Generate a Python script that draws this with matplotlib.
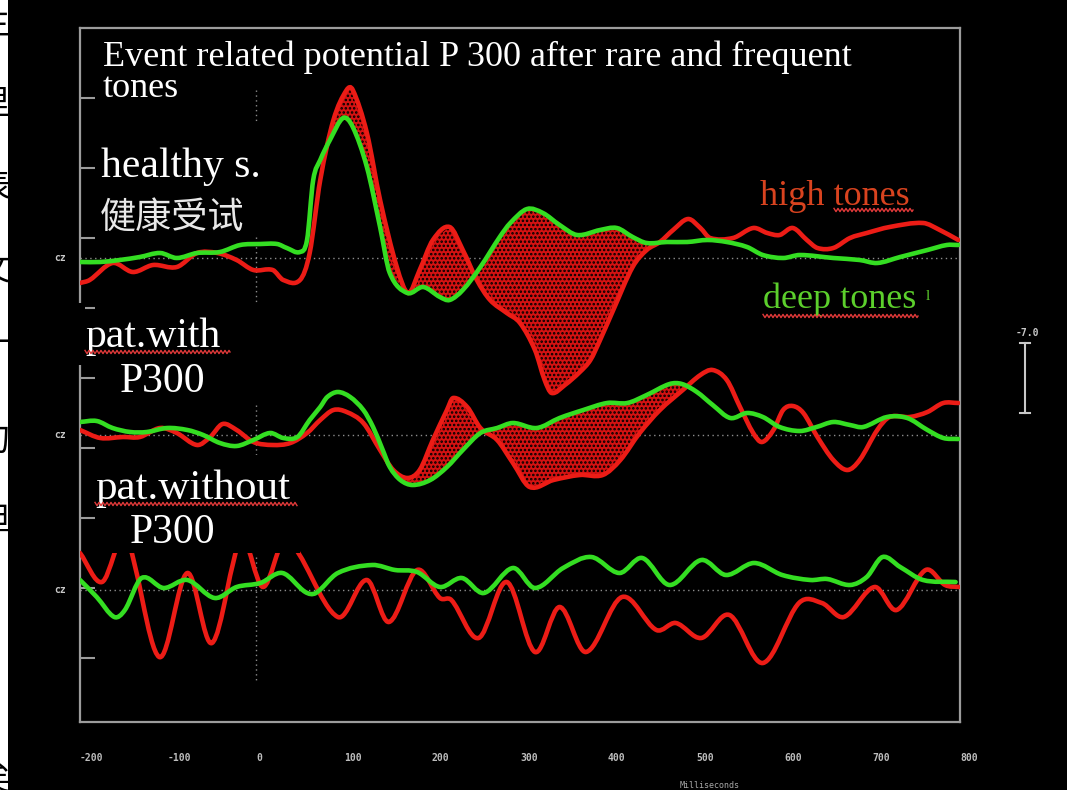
import numpy as np
import matplotlib
matplotlib.use("Agg")
import matplotlib.pyplot as plt
from matplotlib.patches import Rectangle, PathPatch
from matplotlib.path import Path
from matplotlib.lines import Line2D
from matplotlib.transforms import IdentityTransform

W, H, DPI = 1067, 790, 100

# ---------------- data (time in ms, amplitude in µV, negative up) ----------------
channel_names = ["healthy s.", "pat.with P300", "pat.without P300"]
channel_offsets = [23.0, 40.7, 56.2]

# healthy subject
t_h_deep = [-200, -177, -155, -132, -109, -90, -67, -41, -18, 5, 24, 35, 50, 58, 65, 73, 84, 99, 110, 126,
            141, 152, 172, 190, 209, 220, 235, 255, 277, 289, 308, 326, 345, 365, 391, 410, 428, 444, 467,
            490, 513, 535, 558, 576, 599, 618, 656, 686, 706, 732, 763, 785, 798]
v_h_deep = [0.4, 0.4, 0.2, -0.1, -0.5, 0.0, -0.5, -0.6, -1.3, -1.4, -1.4, -1.0, -0.6, -1.8, -7.8, -9.8, -11.8,
            -14.0, -13.1, -9.1, -3.1, 1.5, 3.5, 2.9, 3.9, 4.2, 3.2, 0.9, -2.1, -3.5, -4.9, -4.5, -3.3, -2.3,
            -2.8, -3.0, -2.1, -1.5, -1.6, -1.6, -1.8, -1.6, -1.1, -0.3, 0.0, -0.3, 0.0, 0.2, 0.5, -0.1, -0.8,
            -1.3, -1.3]
t_h_high = [-200, -189, -163, -140, -117, -90, -67, -44, -22, -3, 19, 31, 50, 61, 73, 88, 103, 110, 126, 141,
            160, 173, 186, 201, 220, 235, 251, 266, 285, 300, 317, 328, 336, 351, 368, 380, 391, 406, 428,
            444, 459, 474, 491, 505, 516, 542, 565, 581, 595, 610, 626, 638, 656, 675, 694, 720, 758, 777, 798]
v_h_high = [2.5, 2.2, 0.5, 1.4, 0.7, 0.9, -0.5, -0.5, 0.2, 1.2, 1.2, 2.2, 2.2, -0.5, -7.8, -13.8, -16.8, -16.8,
            -12.5, -5.8, 0.9, 3.5, 1.2, -1.8, -3.1, -0.8, 2.2, 4.2, 5.5, 6.5, 9.2, 12.2, 13.5, 12.7, 11.4,
            10.2, 8.2, 5.2, 0.9, -0.8, -1.6, -2.8, -3.9, -3.0, -2.0, -2.0, -3.0, -2.5, -2.3, -3.0, -1.8, -1.0,
            -1.0, -2.0, -2.5, -3.1, -3.5, -2.8, -1.8]

# patient with P300
t_w_deep = [-200, -181, -163, -143, -124, -101, -78, -60, -41, -22, -3, 16, 31, 47, 61, 73, 81, 93, 107, 122,
            133, 144, 152, 164, 178, 198, 217, 235, 255, 274, 292, 319, 345, 372, 399, 422, 444, 470, 484,
            501, 519, 539, 558, 576, 595, 618, 637, 656, 675, 690, 717, 740, 763, 781, 798]
v_w_deep = [-1.3, -1.4, -0.7, -0.3, -0.3, -0.7, -0.5, 0.0, 0.8, 1.1, 0.5, -0.2, 0.3, 0.2, -1.5, -2.8, -3.8,
            -4.3, -3.8, -2.5, -0.8, 1.5, 3.2, 4.5, 5.0, 4.5, 3.2, 1.5, -0.2, -0.7, -1.2, -0.7, -1.7, -2.5,
            -3.2, -3.2, -4.0, -5.1, -5.1, -4.3, -3.0, -1.7, -2.2, -1.8, -0.8, -0.4, -0.8, -1.3, -1.0, -0.8,
            -1.8, -1.7, -0.5, 0.3, 0.4]
t_w_high = [-200, -177, -151, -132, -109, -90, -67, -52, -38, -22, -3, 19, 39, 58, 73, 88, 103, 122, 141, 156,
            172, 186, 201, 217, 224, 240, 255, 274, 292, 311, 338, 368, 394, 414, 436, 459, 485, 505, 519,
            535, 550, 565, 575, 588, 599, 610, 622, 638, 656, 672, 686, 706, 720, 743, 763, 781, 798]
v_w_high = [-0.5, 0.3, 0.2, 0.2, -0.7, -0.2, 1.0, 0.2, -1.1, -0.5, 0.7, 1.0, 0.8, -0.2, -1.5, -2.5, -2.3, -1.2,
            1.5, 3.5, 4.3, 3.5, 0.5, -2.5, -3.7, -2.8, -0.7, 0.5, 2.8, 5.2, 4.5, 4.0, 4.0, 2.5, -0.2, -2.5,
            -4.5, -6.0, -6.5, -5.5, -2.8, -0.2, 0.7, -0.5, -2.5, -2.9, -2.2, 0.2, 2.5, 3.5, 2.5, -0.5, -1.8,
            -1.8, -2.3, -3.2, -3.2]

# patient without P300
t_o_deep = [-200, -181, -161, -149, -130, -105, -78, -47, -22, 5, 30, 56, 68, 93, 132, 158, 183, 209, 234, 259,
            292, 317, 349, 381, 413, 439, 470, 506, 534, 566, 598, 630, 649, 675, 694, 712, 732, 758, 795]
v_o_deep = [-1.0, 0.7, 2.7, 2.0, -1.2, -0.2, -1.0, 0.8, -0.3, -0.7, -1.7, 0.2, 0.3, -1.7, -2.5, -2.0, -1.8,
            -0.3, -1.2, 0.3, -2.2, -0.2, -2.2, -3.3, -1.7, -3.2, -0.5, -3.0, -1.5, -2.7, -1.5, -1.0, -1.1,
            -0.5, -1.3, -3.3, -2.3, -1.0, -0.8]
t_o_high = [-200, -175, -148, -110, -78, -50, -17, 8, 34, 93, 126, 151, 183, 209, 222, 253, 285, 317, 345, 375,
            416, 455, 477, 506, 538, 576, 617, 643, 668, 703, 728, 761, 783, 799]
v_o_high = [-3.7, -0.8, -5.2, 6.7, -1.7, 5.3, -5.0, -0.3, -5.0, 2.7, -1.0, 3.2, -2.0, 0.8, 1.0, 4.8, -0.8, 6.2,
            1.7, 6.2, 0.7, 4.0, 3.3, 4.8, 2.5, 7.3, 1.3, 1.3, 2.7, -0.3, 2.0, -2.0, -0.5, -0.3]

fill_windows = [(84, 448), (150, 493), None]   # shaded difference windows (ms)

x_ticks = [-200, -100, 0, 100, 200, 300, 400, 500, 600, 700, 800]
x_ticklabels = [str(v) for v in x_ticks]
scale_bar_uv = 7.0

RED = "#ec1c16"
GREEN = "#34de22"
FRAME = "#9c9c9c"


# ---------------- helpers ----------------
def fx(px):
    return px / W


def fy(py):
    return 1 - py / H


def smooth_path(x, y):
    """Bezier path through the read points (cubic Hermite tangents)."""
    x = np.asarray(x, float)
    y = np.asarray(y, float)
    n = len(x)
    m = np.zeros(n)
    m[1:-1] = (y[2:] - y[:-2]) / (x[2:] - x[:-2])
    m[0] = (y[1] - y[0]) / (x[1] - x[0])
    m[-1] = (y[-1] - y[-2]) / (x[-1] - x[-2])
    verts = [(x[0], y[0])]
    codes = [Path.MOVETO]
    for i in range(n - 1):
        h = x[i + 1] - x[i]
        verts += [(x[i] + h / 3, y[i] + m[i] * h / 3),
                  (x[i + 1] - h / 3, y[i + 1] - m[i + 1] * h / 3),
                  (x[i + 1], y[i + 1])]
        codes += [Path.CURVE4] * 3
    return Path(verts, codes)


fig = plt.figure(figsize=(W / DPI, H / DPI), dpi=DPI, facecolor="white")

# white strip with cut-off characters at left, black panel
for ch, yc in zip("主里表文十句担矣", [25, 105, 188, 270, 345, 440, 520, 780]):
    fig.text(fx(10), fy(yc), ch, ha="right", va="center", fontsize=24,
             family=["Noto Sans CJK SC", "DejaVu Sans"], color="black", zorder=-3)
fig.add_artist(Rectangle((fx(8), 0), 1, 1, transform=fig.transFigure,
                         facecolor="black", edgecolor="none", zorder=-2))

ax = fig.add_axes([fx(80), fy(722), fx(960) - fx(80), fy(28) - fy(722)])
ax.set_facecolor("black")
ax.set_xlim(-200, 800)
ax.set_ylim(69.4, 0)
for s in ax.spines.values():
    s.set_color(FRAME)
    s.set_linewidth(1.6)

# grid: baselines and 0 ms markers
for off in channel_offsets:
    ax.axhline(off, color="#8c8c8c", lw=1.0, ls=(0, (1, 2.5)), zorder=1)
for y0, y1 in [(6.2, 9.5), (20.9, 27.7), (37.7, 42.9), (52.9, 65.2)]:
    ax.plot([0, 0], [y0, y1], color="#8c8c8c", lw=1.0, ls=(0, (1, 2.5)), zorder=1)

traces = [(t_h_deep, v_h_deep, t_h_high, v_h_high),
          (t_w_deep, v_w_deep, t_w_high, v_w_high),
          (t_o_deep, v_o_deep, t_o_high, v_o_high)]

plt.rcParams["hatch.linewidth"] = 1.2
for (td, vd, th, vh), off, win in zip(traces, channel_offsets, fill_windows):
    td = np.asarray(td, float); vd = np.asarray(vd, float) + off
    th = np.asarray(th, float); vh = np.asarray(vh, float) + off
    if win is not None:
        tt = np.arange(win[0], win[1] + 1, 1.0)
        ax.fill_between(tt, np.interp(tt, td, vd), np.interp(tt, th, vh),
                        facecolor="#d41212", edgecolor="black", hatch="....", linewidth=0, zorder=2)
    for t, v, col, z in ((th, vh, RED, 3), (td, vd, GREEN, 4)):
        ax.add_patch(PathPatch(smooth_path(t, v), fill=False, edgecolor=col, lw=3.3,
                               joinstyle="round", capstyle="round", zorder=z))

# axes ticks
ax.set_xticks(x_ticks)
ax.set_xticklabels(x_ticklabels)
ax.tick_params(axis="x", length=0, pad=22, labelsize=7, labelcolor="#bdbdbd")
for lab in ax.get_xticklabels():
    lab.set_ha("left")
    lab.set_family("DejaVu Sans Mono")
    lab.set_weight("bold")
ax.set_yticks(np.arange(7, 64, 7))
ax.tick_params(axis="y", direction="in", length=11, width=1.5, color=FRAME, labelleft=False)

# scale bar (7 µV)
sb_x, sb_top = 874, 31.5
ax.plot([sb_x, sb_x], [sb_top, sb_top + scale_bar_uv], color="#c8c8c8", lw=1.5, clip_on=False)
for yy in (sb_top, sb_top + scale_bar_uv):
    ax.plot([sb_x - 6, sb_x + 6], [yy, yy], color="#c8c8c8", lw=1.5, clip_on=False)
ax.text(sb_x + 3, sb_top - 1.0, "-%.1f" % scale_bar_uv, ha="center", va="center", fontsize=7,
        family="DejaVu Sans Mono", weight="bold", color="#c8c8c8", clip_on=False)

# masks (text backgrounds of the slide)
fig.add_artist(Rectangle((fx(97), fy(553)), fx(300) - fx(97), fy(455) - fy(553),
                         transform=fig.transFigure, facecolor="black", edgecolor="none", zorder=1))
fig.add_artist(Rectangle((fx(76), fy(365)), fx(85) - fx(76), fy(303) - fy(365),
                         transform=fig.transFigure, facecolor="black", edgecolor="none", zorder=1))

# labels
mono = dict(family="DejaVu Sans Mono", weight="bold", color="#c8c8c8")
for py in (258, 435, 590):
    fig.text(fx(60), fy(py), "cz", ha="center", va="center", fontsize=7, **mono)
fig.text(fx(710), fy(785), "Milliseconds", ha="center", va="center", fontsize=6,
         family="DejaVu Sans Mono", color="#a8a8a8")

serif = dict(family="Liberation Serif", color="white", zorder=5)
fig.text(fx(103), fy(97), "Event related potential P 300 after rare and frequent\ntones", fontsize=26,
         va="baseline", linespacing=0.93, **serif)
fig.text(fx(101), fy(177), channel_names[0], fontsize=30, va="baseline", **serif)
fig.text(fx(100), fy(218), "健康受试", fontsize=26, va="center", color="#e8e8e8",
         family=["Noto Sans CJK SC", "DejaVu Sans"], zorder=5)
fig.text(fx(85), fy(347), "pat.with", fontsize=30, va="baseline", **serif)
fig.text(fx(120), fy(392), "P300", fontsize=30, va="baseline", **serif)
fig.text(fx(95), fy(499), "pat.without", fontsize=31, va="baseline", **serif)
fig.text(fx(130), fy(543), "P300", fontsize=30, va="baseline", **serif)
fig.text(fx(760), fy(205), "high tones", fontsize=26, va="baseline", family="Liberation Serif",
         color="#d8431f", zorder=5)
fig.text(fx(763), fy(308), "deep tones", fontsize=26, va="baseline", family="Liberation Serif",
         color="#5ccf2c", zorder=5)
fig.text(fx(926), fy(300), "l", fontsize=11, va="baseline", family="Liberation Serif",
         color="#5ccf2c", zorder=5)


def squiggle(x0, x1, py, color="#e03a3a"):
    xs = np.arange(x0, x1 + 0.5, 1.0)
    ys = (H - py) + 1.6 * (np.abs(((xs - x0) % 4) - 2) - 1)
    fig.add_artist(Line2D(xs, ys, transform=IdentityTransform(), color=color, lw=1.0, zorder=6))


squiggle(834, 913, 210)
squiggle(763, 918, 316)
squiggle(85, 230, 352)
squiggle(95, 297, 504)

fig.savefig("out.png", dpi=DPI, facecolor=fig.get_facecolor())
